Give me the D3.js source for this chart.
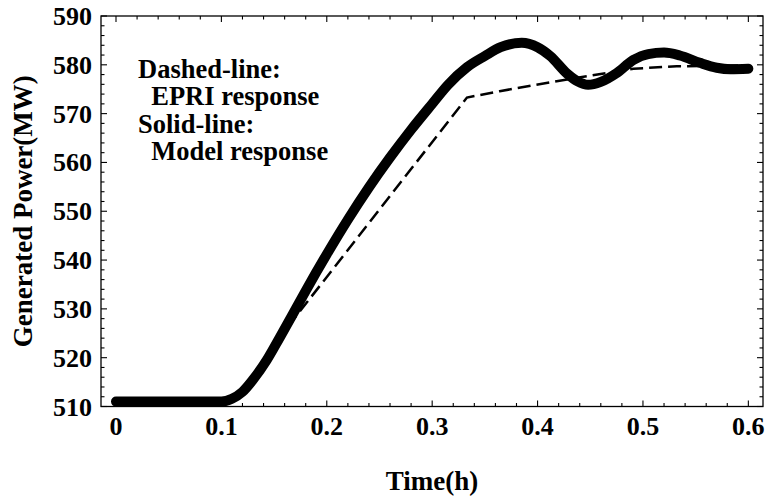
<!DOCTYPE html>
<html>
<head>
<meta charset="utf-8">
<script src="https://cdn.jsdelivr.net/npm/d3@7"></script>
<style>
  body { margin: 0; background: #fff; }
  text { font-family: "Liberation Serif", "Times New Roman", serif; font-weight: bold; fill: #000; }
</style>
</head>
<body>
<div id="chart"></div>
<script>
// time (h) and generated power (MW)
const modelT = [0, 0.05, 0.1, 0.11, 0.12, 0.13, 0.143, 0.155, 0.168, 0.18, 0.2, 0.22, 0.24, 0.26, 0.28, 0.3, 0.315, 0.333,
  0.35, 0.365, 0.385, 0.4, 0.412, 0.428, 0.438, 0.448, 0.46, 0.475, 0.491, 0.505, 0.52, 0.535, 0.554, 0.57, 0.583, 0.6];
const modelP = [511, 511, 511, 511.6, 513, 515.5, 519.5, 524, 529, 533.7, 541.2, 548.3, 554.9, 561.0, 566.7, 572.0, 575.9, 579.5,
  581.8, 583.6, 584.5, 583.6, 581.8, 578.2, 576.6, 575.9, 576.5, 578.3, 581, 582.2, 582.5, 581.9, 580.4, 579.4, 579.1, 579.2];

const epriT = [0, 0.1, 0.11, 0.12, 0.13, 0.143, 0.155, 0.168, 0.333, 0.364, 0.428, 0.491, 0.532, 0.6];
const epriP = [511, 511, 511.6, 513, 515.5, 519.5, 524, 527.7, 573.3, 574.6, 577, 579.2, 579.7, 579.9];

const xTicks = [0, 0.1, 0.2, 0.3, 0.4, 0.5, 0.6];
const yTicks = [510, 520, 530, 540, 550, 560, 570, 580, 590];
const legendLines = ["Dashed-line:", "  EPRI response", "Solid-line:", "  Model response"];

const W = 767, H = 500;
const plotL = 101, plotR = 763, plotT = 16, plotB = 406.5;

const svg = d3.select("#chart").append("svg")
  .attr("width", W)
  .attr("height", H);

const x = d3.scaleLinear().domain([-0.01423, 0.6139]).range([plotL, plotR]);
const y = d3.scaleLinear().domain([510, 590]).range([plotB, plotT]);

const xMinor = d3.range(0, 0.6001, 0.02).filter(v => Math.abs(Math.round(v * 10) - v * 10) > 1e-6);
const yMinor = d3.range(510, 590.1, 2).filter(v => v % 10 !== 0);

// frame
svg.append("rect")
  .attr("x", plotL).attr("y", plotT)
  .attr("width", plotR - plotL).attr("height", plotB - plotT)
  .attr("fill", "none").attr("stroke", "#000").attr("stroke-width", 1.3);

// ticks on all four sides, pointing inward
const tg = svg.append("g").attr("stroke", "#000").attr("stroke-width", 1.1);
[[xTicks, 6], [xMinor, 3.5]].forEach(([vals, len]) => {
  vals.forEach(v => {
    tg.append("line").attr("x1", x(v)).attr("x2", x(v)).attr("y1", plotB).attr("y2", plotB - len);
    tg.append("line").attr("x1", x(v)).attr("x2", x(v)).attr("y1", plotT).attr("y2", plotT + len);
  });
});
[[yTicks, 6], [yMinor, 3.5]].forEach(([vals, len]) => {
  vals.forEach(v => {
    tg.append("line").attr("y1", y(v)).attr("y2", y(v)).attr("x1", plotL).attr("x2", plotL + len);
    tg.append("line").attr("y1", y(v)).attr("y2", y(v)).attr("x1", plotR).attr("x2", plotR - len);
  });
});

// tick labels
svg.append("g").selectAll("text")
  .data(xTicks)
  .enter().append("text")
  .attr("x", d => x(d))
  .attr("y", 435)
  .attr("text-anchor", "middle")
  .style("font-size", "26px")
  .text(d => d3.format("")(d));

svg.append("g").selectAll("text")
  .data(yTicks)
  .enter().append("text")
  .attr("x", 92)
  .attr("y", d => y(d) + 9)
  .attr("text-anchor", "end")
  .style("font-size", "26px")
  .text(d => d);

// axis titles
svg.append("text")
  .attr("x", (plotL + plotR) / 2)
  .attr("y", 490)
  .attr("text-anchor", "middle")
  .style("font-size", "27px")
  .text("Time(h)");

svg.append("text")
  .attr("transform", `translate(32,${(plotT + plotB) / 2}) rotate(-90)`)
  .attr("text-anchor", "middle")
  .style("font-size", "27px")
  .text("Generated Power(MW)");

// lines
const line = d3.line().x(d => x(d[0])).y(d => y(d[1]));

svg.append("path")
  .datum(d3.zip(modelT, modelP))
  .attr("fill", "none")
  .attr("stroke", "#000")
  .attr("stroke-width", 10)
  .attr("stroke-linecap", "round")
  .attr("stroke-linejoin", "round")
  .attr("d", line.curve(d3.curveMonotoneX));

svg.append("path")
  .datum(d3.zip(epriT, epriP))
  .attr("fill", "none")
  .attr("stroke", "#000")
  .attr("stroke-width", 2.5)
  .attr("stroke-dasharray", "13,6")
  .attr("d", line.curve(d3.curveLinear));

// legend text
const legendY = [78, 105, 133, 160];
svg.append("g").selectAll("text")
  .data(legendLines)
  .enter().append("text")
  .attr("x", 138)
  .attr("y", (d, i) => legendY[i])
  .style("white-space", "pre")
  .style("font-size", "26.5px")
  .text(d => d);
</script>
</body>
</html>
